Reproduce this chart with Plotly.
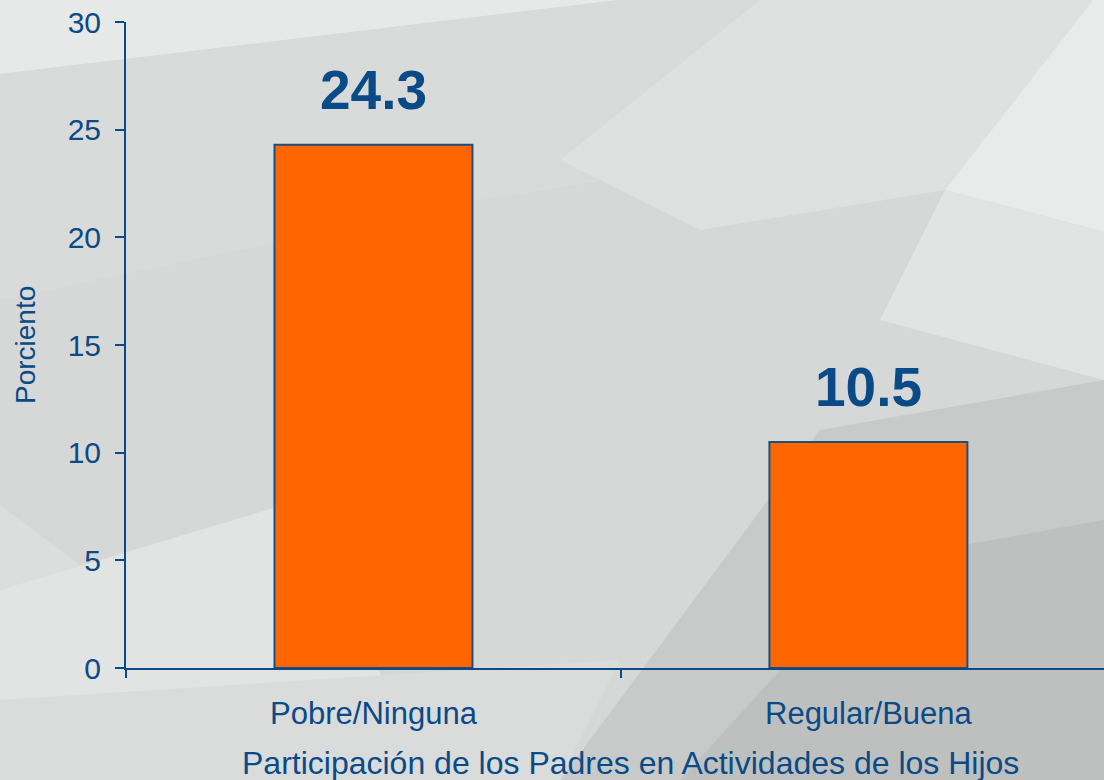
import plotly.graph_objects as go

categories = ["Pobre/Ninguna", "Regular/Buena"]
values = [24.3, 10.5]
value_labels = ["24.3", "10.5"]
y_ticks = [0, 5, 10, 15, 20, 25, 30]
y_title = "Porciento"
x_title = "Participación de los Padres en Actividades de los Hijos"

BLUE = "#0A4A86"
ORANGE = "#FF6600"
FONT = "Liberation Sans, Arial, sans-serif"

W, H = 1104, 780
ML, MR, MT, MB = 126, 0, 22, 112
PW, PH = W - ML - MR, H - MT - MB

fig = go.Figure()
fig.add_trace(go.Bar(
    x=categories, y=values, width=0.4,
    marker=dict(color=ORANGE, line=dict(color="#1A4F80", width=2)),
    hoverinfo="skip",
))

for c, v, t in zip(categories, values, value_labels):
    fig.add_annotation(x=c, y=v, text=f"<b>{t}</b>", showarrow=False,
                       yanchor="bottom", yshift=22,
                       font=dict(family=FONT, size=55, color=BLUE))


# background facets (decorative), given in page pixels
def P(pts):
    return "M " + " L ".join(f"{(x - ML) / PW:.4f},{1 - (y - MT) / PH:.4f}" for x, y in pts) + " Z"


facets = [
    ([(0, 0), (620, 0), (0, 74)], "#e7e8e8"),
    ([(620, 0), (1000, 0), (800, 150), (480, 200), (0, 300), (0, 74)], "#d9dbdb"),
    ([(760, 0), (1093, 0), (945, 190), (700, 230), (560, 160)], "#dfe0e0"),
    ([(1093, 0), (1104, 0), (1104, 232), (945, 190)], "#e9eaea"),
    ([(945, 190), (1104, 232), (1104, 380), (880, 320)], "#e2e3e3"),
    ([(560, 780), (820, 430), (1104, 380), (1104, 780)], "#c8caca"),
    ([(680, 780), (880, 560), (1104, 520), (1104, 780)], "#bec0c0"),
    ([(0, 505), (180, 640), (400, 780), (0, 780)], "#dcdddd"),
    ([(0, 590), (300, 500), (430, 780), (0, 780)], "#e2e3e3"),
    ([(0, 700), (620, 660), (560, 780), (0, 780)], "#dadcdc"),
]
fig.update_layout(shapes=[dict(type="path", xref="paper", yref="paper", layer="below",
                               line=dict(width=0), fillcolor=c, path=P(pts))
                          for pts, c in facets])

fig.add_annotation(xref="paper", yref="paper", x=0, y=0.5, xshift=-101,
                   text=y_title, textangle=-90, showarrow=False,
                   xanchor="center", yanchor="middle",
                   font=dict(family=FONT, size=28, color=BLUE))
fig.add_annotation(xref="paper", yref="paper", x=(630 - ML) / PW, y=0,
                   yshift=-95, text=x_title, showarrow=False,
                   xanchor="center", yanchor="middle",
                   font=dict(family=FONT, size=32, color=BLUE))

fig.update_layout(
    width=W, height=H,
    margin=dict(l=ML, r=MR, t=MT, b=MB, autoexpand=False),
    paper_bgcolor="#d6d8d8", plot_bgcolor="rgba(0,0,0,0)",
    showlegend=False,
    xaxis=dict(range=[-0.5, 1.476], tickson="boundaries", ticks="outside",
               ticklen=8, tickwidth=2, tickcolor=BLUE, showline=True,
               linecolor=BLUE, linewidth=2, showgrid=False, zeroline=False,
               tickfont=dict(family=FONT, size=31, color=BLUE),
               ticklabelstandoff=17),
    yaxis=dict(range=[0, 30], tickvals=y_ticks, ticks="outside", ticklen=9,
               tickwidth=2, tickcolor=BLUE, showline=True, linecolor=BLUE,
               linewidth=2, showgrid=False, zeroline=False,
               tickfont=dict(family=FONT, size=30, color=BLUE),
               ticklabelstandoff=8),
)

fig.write_html("out.html", config={"displayModeBar": False},
               post_script="document.body.style.margin='0';document.body.style.overflow='hidden';")
